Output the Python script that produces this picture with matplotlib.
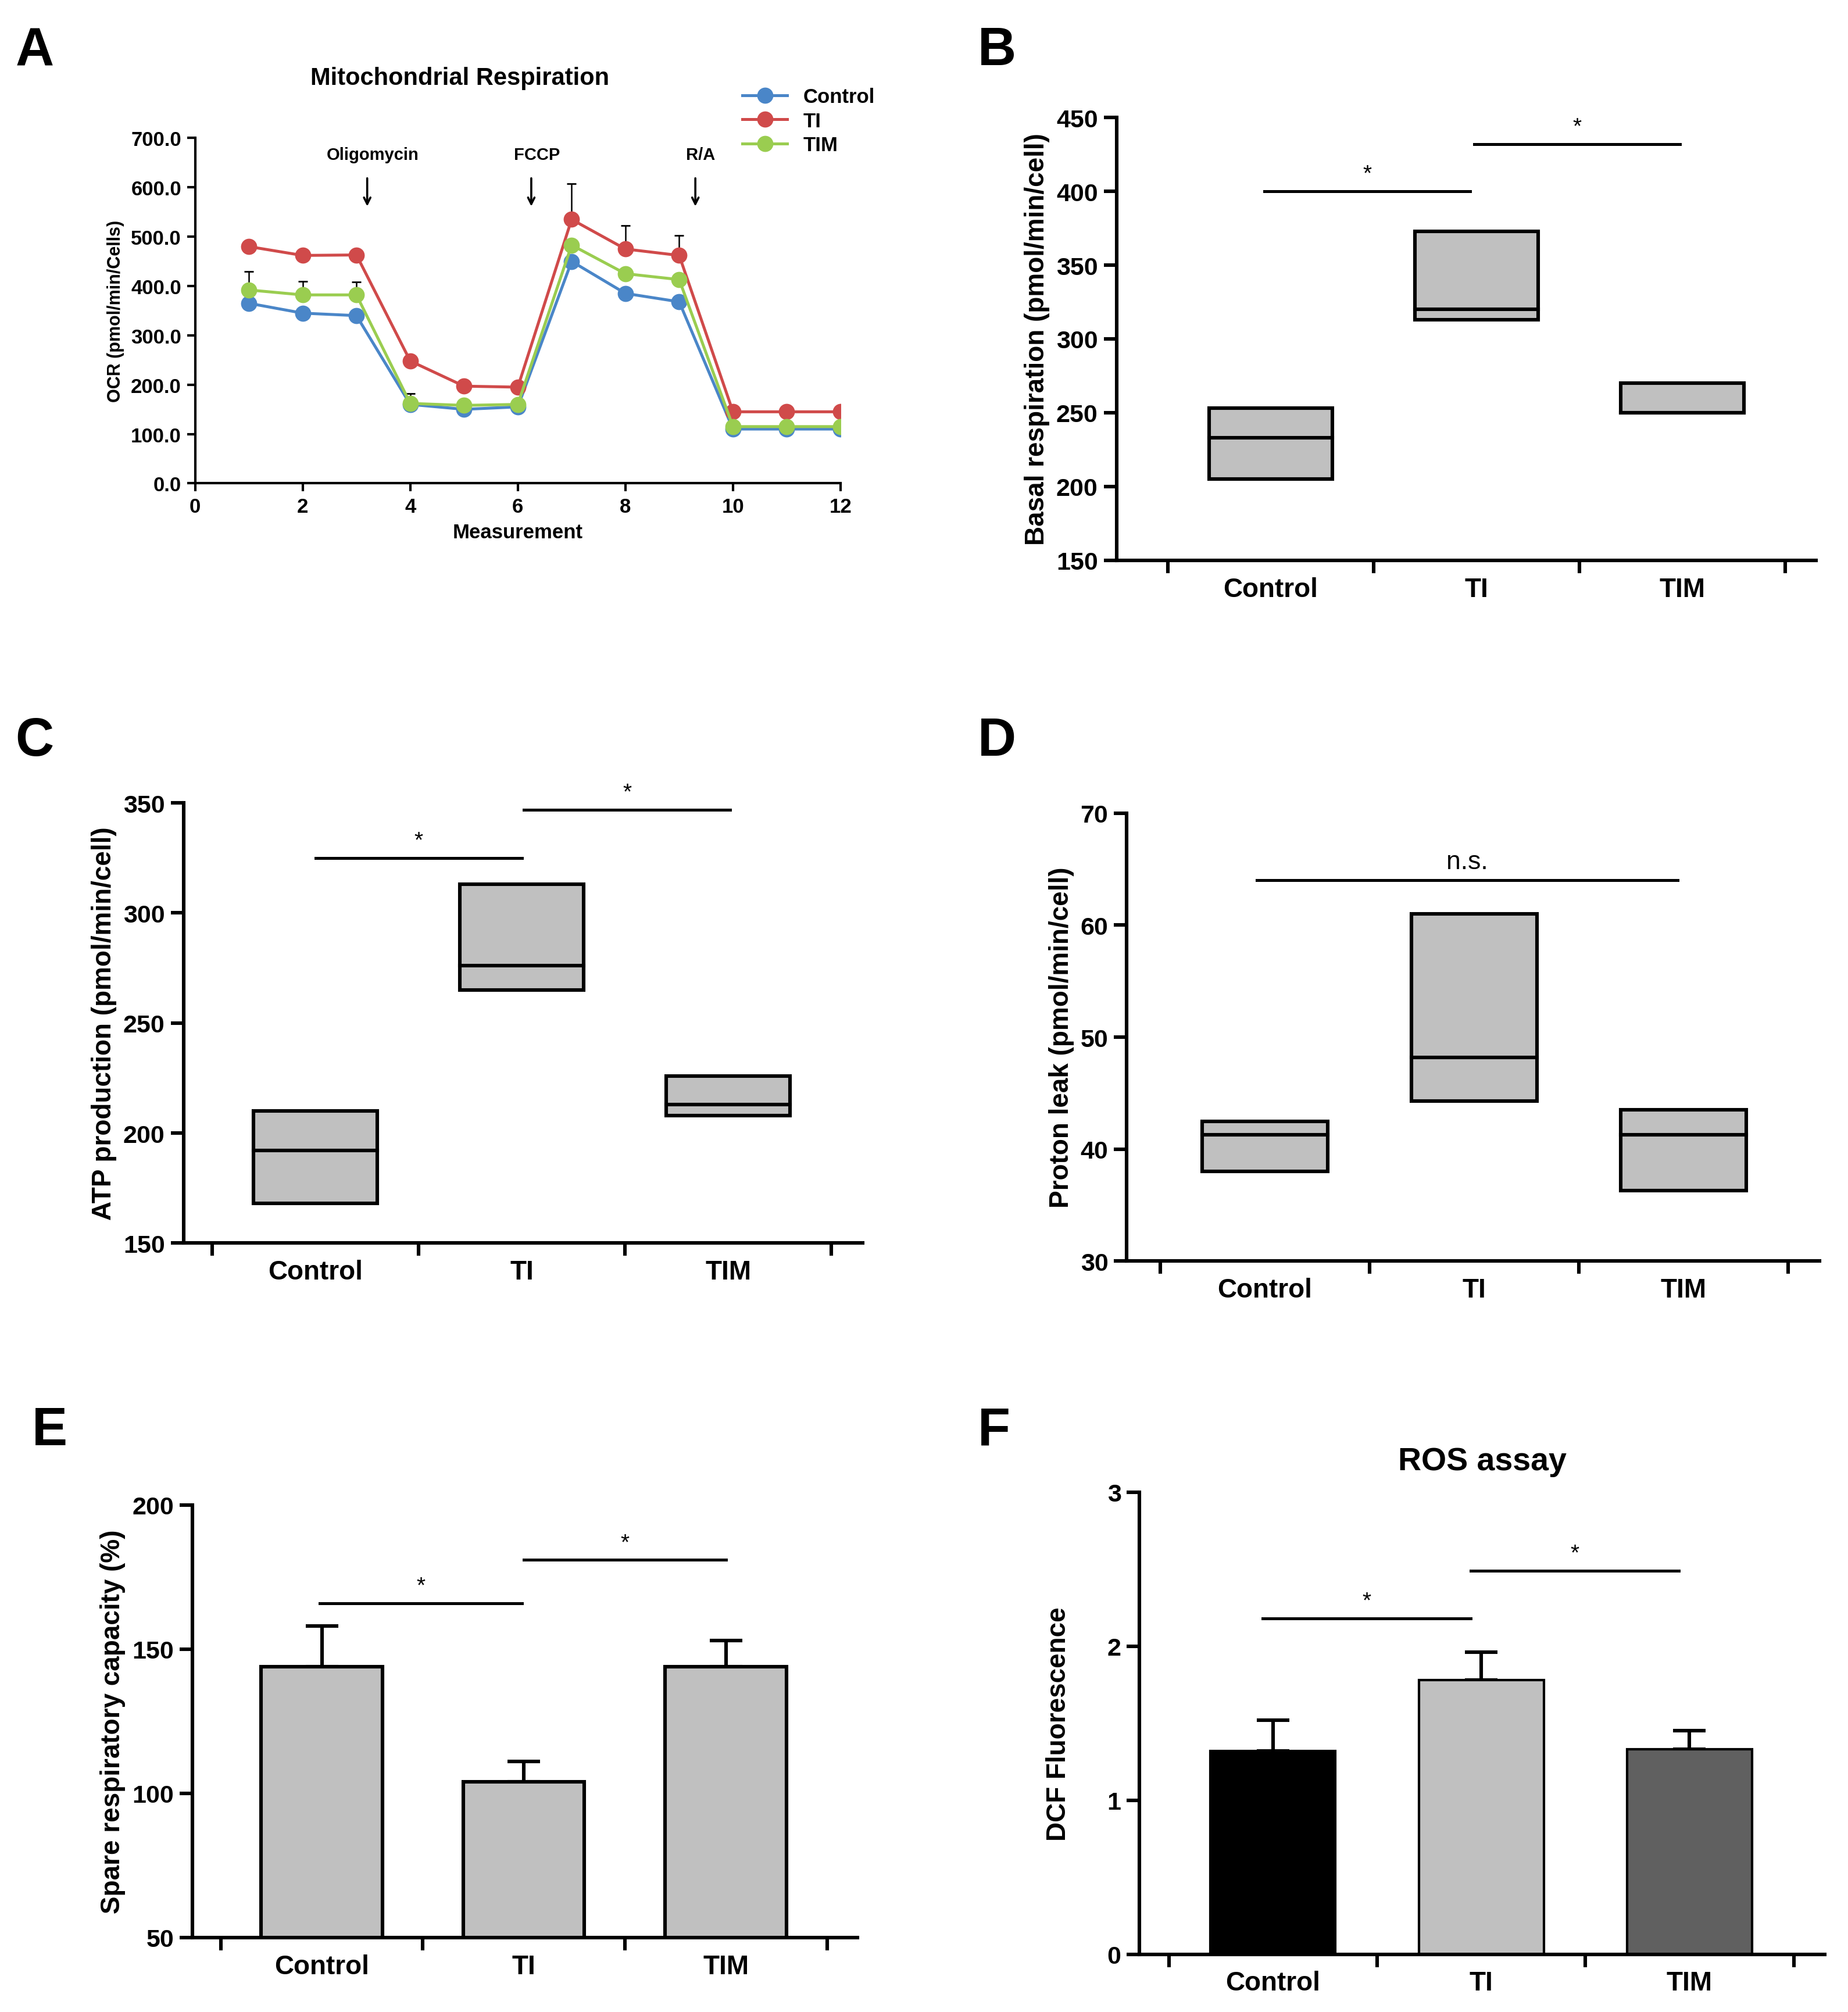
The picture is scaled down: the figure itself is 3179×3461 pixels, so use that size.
import matplotlib
matplotlib.use("Agg")
import matplotlib.pyplot as plt
import numpy as np

plt.rcParams['font.family'] = ['Liberation Sans', 'DejaVu Sans']
plt.rcParams['font.weight'] = 'bold'

W, H = 1440, 1568
def ax_at(fig, l, r, t, b):
    return fig.add_axes([l / W, 1 - b / H, (r - l) / W, (b - t) / H])

cats = ["Control", "TI", "TIM"]
meas = np.arange(1, 13)
ocr_control = [365, 345, 340, 160, 150, 155, 450, 385, 368, 110, 110, 110]
ocr_ti = [480, 462, 463, 248, 197, 195, 535, 475, 462, 145, 145, 145]
ocr_tim = [392, 382, 382, 162, 158, 160, 483, 425, 413, 115, 115, 115]
err_ti = [0, 0, 0, 0, 0, 0, 72, 47, 41, 0, 0, 0]
err_tim = [38, 28, 26, 20, 0, 0, 0, 0, 0, 0, 0, 0]

basal = {"lo": [205, 313, 250], "med": [233, 320, 250], "hi": [253, 373, 270]}
atp = {"lo": [168, 265, 208], "med": [192, 276, 213], "hi": [210, 313, 226]}
leak = {"lo": [38.0, 44.3, 36.3], "med": [41.3, 48.2, 41.3], "hi": [42.5, 61.0, 43.5]}
spare = [144, 104, 144]
spare_err = [14, 7, 9]
ros = [1.32, 1.78, 1.33]
ros_err = [0.20, 0.18, 0.12]

fig = plt.figure(figsize=(3179 / 200, 3462 / 200), dpi=200)
LW = 2.2
TF = 16.5

def style_cat(ax, ylim, yticks, ylabel, xl=-0.64):
    for s in ['top', 'right']:
        ax.spines[s].set_visible(False)
    for s in ['left', 'bottom']:
        ax.spines[s].set_linewidth(LW)
    ax.set_xlim(xl, 2.65)
    ax.set_ylim(*ylim)
    ax.set_yticks(yticks)
    ax.set_xticks([0, 1, 2])
    ax.set_xticklabels(cats, fontsize=TF, fontweight='bold')
    ax.set_xticks([-0.5, 0.5, 1.5, 2.5], minor=True)
    ax.tick_params(axis='x', which='major', length=0, pad=10)
    ax.tick_params(axis='x', which='minor', length=8, width=LW, direction='out')
    ax.tick_params(axis='y', length=8, width=LW, labelsize=TF - 1)
    for t in ax.get_yticklabels():
        t.set_fontweight('bold')
    ax.set_ylabel(ylabel, fontsize=TF, fontweight='bold')

def sig(ax, x0, x1, y, txt="*", fs=14):
    ax.plot([x0, x1], [y, y], color='black', lw=1.8, clip_on=False)
    yr = ax.get_ylim()
    ax.text((x0 + x1) / 2, y + (yr[1] - yr[0]) * 0.015, txt, ha='center', va='bottom',
            fontsize=fs, fontweight='normal')

def boxes(ax, d):
    for i in range(3):
        ax.bar(i, d["hi"][i] - d["lo"][i], bottom=d["lo"][i], width=0.6, color='#c0c0c0',
               edgecolor='black', linewidth=LW, zorder=2)
        ax.plot([i - 0.3, i + 0.3], [d["med"][i]] * 2, color='black', lw=LW, zorder=3)

def letter(x, y, s):
    fig.text(x / W, 1 - y / H, s, fontsize=33, fontweight='bold', ha='left', va='center')

# Panel A
ax = ax_at(fig, 152, 655, 108, 377)
cols = ['#4a86c8', '#d04a4a', '#9acd50']
for data, err, c, lab in [(ocr_control, None, cols[0], 'Control'), (ocr_ti, err_ti, cols[1], 'TI'),
                          (ocr_tim, err_tim, cols[2], 'TIM')]:
    if err is not None:
        ax.errorbar(meas, data, yerr=[np.zeros(12), err], fmt='none', ecolor='black', elinewidth=0.9, capsize=3)
    ax.plot(meas, data, '-o', color=c, ms=9, lw=1.8, label=lab)
ax.set_xlim(0, 12)
ax.set_ylim(0, 700)
ax.set_xticks(range(0, 13, 2))
ax.set_yticks(range(0, 701, 100))
ax.set_yticklabels([f"{v:.1f}" for v in range(0, 701, 100)])
for s in ['top', 'right']:
    ax.spines[s].set_visible(False)
for s in ['left', 'bottom']:
    ax.spines[s].set_linewidth(1.5)
ax.tick_params(labelsize=12.5, width=1.5, length=5)
for t in ax.get_xticklabels() + ax.get_yticklabels():
    t.set_fontweight('bold')
ax.set_xlabel("Measurement", fontsize=12.5, fontweight='bold')
ax.set_ylabel("OCR (pmol/min/Cells)", fontsize=11, fontweight='bold')
ax.text(0.41, 1.14, "Mitochondrial Respiration", transform=ax.transAxes, ha='center', va='bottom',
        fontsize=15, fontweight='bold')
for x, lab in [(3.2, "Oligomycin"), (6.25, "FCCP"), (9.3, "R/A")]:
    ax.annotate("", xy=(x, 555), xytext=(x, 625), arrowprops=dict(arrowstyle='->', lw=1.3, color='black'))
    ax.text(x + 0.1, 650, lab, ha='center', va='bottom', fontsize=10.5, fontweight='bold')
ax.legend(loc='upper left', bbox_to_anchor=(0.82, 1.2), frameon=False, fontsize=12.5, handlelength=2.2,
          labelspacing=0.25)
letter(12, 40, "A")

# Panel B
ax = ax_at(fig, 870, 1415, 92, 437)
style_cat(ax, (150, 450), range(150, 451, 50), "Basal respiration (pmol/min/cell)", xl=-0.75)
boxes(ax, basal)
sig(ax, -0.03, 0.97, 400)
sig(ax, 0.99, 1.99, 432)
letter(762, 40, "B")

# Panel C
ax = ax_at(fig, 143, 672, 626, 969)
style_cat(ax, (150, 350), range(150, 351, 50), "ATP production (pmol/min/cell)")
boxes(ax, atp)
sig(ax, 0, 1, 325)
sig(ax, 1.01, 2.01, 347)
letter(12, 578, "C")

# Panel D
ax = ax_at(fig, 878, 1418, 634, 983)
style_cat(ax, (30, 70), range(30, 71, 10), "Proton leak (pmol/min/cell)", xl=-0.66)
boxes(ax, leak)
sig(ax, -0.04, 1.97, 64, "n.s.", fs=16)
letter(762, 578, "D")

# Panel E
ax = ax_at(fig, 150, 668, 1173, 1510)
style_cat(ax, (50, 200), range(50, 201, 50), "Spare respiratory capacity (%)")
ax.bar(range(3), spare, width=0.6, color='#c0c0c0', edgecolor='black', linewidth=LW, zorder=2)
ax.errorbar(range(3), spare, yerr=[np.zeros(3), spare_err], fmt='none', ecolor='black',
            elinewidth=LW, capsize=10, capthick=LW, zorder=1)
sig(ax, -0.01, 0.99, 166)
sig(ax, 1.0, 2.0, 181)
letter(25, 1115, "E")

# Panel F
ax = ax_at(fig, 888, 1422, 1163, 1523)
style_cat(ax, (0, 3), range(0, 4), "DCF Fluorescence")
ax.bar(range(3), ros, width=0.6, color=['#000000', '#c0c0c0', '#606060'], edgecolor='black',
       linewidth=1.5, zorder=2)
ax.errorbar(range(3), ros, yerr=[np.zeros(3), ros_err], fmt='none', ecolor='black',
            elinewidth=LW, capsize=10, capthick=LW, zorder=1)
ax.set_title("ROS assay", fontsize=20, fontweight='bold', pad=14)
ax.yaxis.labelpad = 22
sig(ax, -0.05, 0.95, 2.18)
sig(ax, 0.95, 1.95, 2.49)
letter(762, 1115, "F")

fig.savefig("out.png", dpi=200, facecolor='white')
